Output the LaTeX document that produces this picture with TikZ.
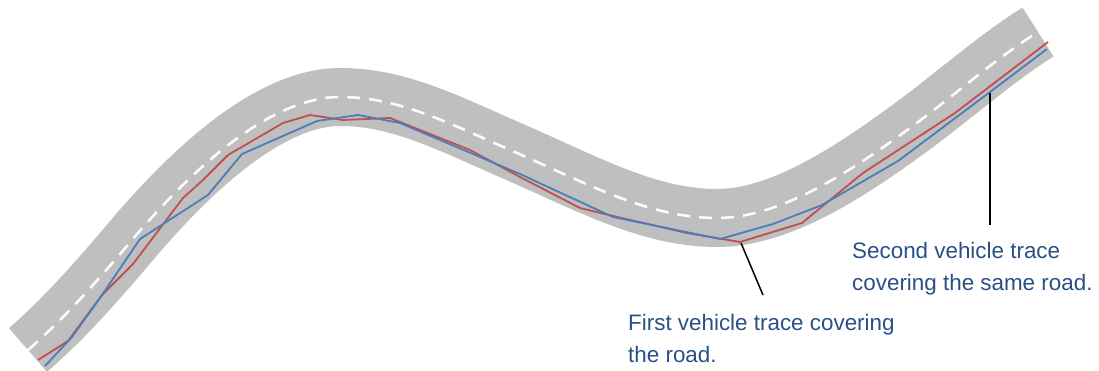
\documentclass[tikz,border=0pt]{standalone}
\usepackage{fontspec}
\setmainfont{Liberation Sans}
\definecolor{roadgray}{HTML}{BFBFBF}
\definecolor{tracered}{HTML}{C0504D}
\definecolor{traceblue}{HTML}{4A7EBB}
\definecolor{labelblue}{HTML}{2A5085}
\tikzset{
  road/.style={draw=roadgray,line width=58pt,line cap=butt},
  centerline/.style={draw=white!97!gray,line width=2.6pt,dash pattern=on 13pt off 9pt},
  redtrace/.style={draw=tracered,line width=1.8pt,line join=round},
  bluetrace/.style={draw=traceblue,line width=1.8pt,line join=round},
  leader/.style={draw=black},
  tracelabel/.style={text=labelblue,anchor=base west,align=left,inner sep=0pt,font=\fontsize{22.4}{32}\selectfont}
}
\begin{document}
\begin{tikzpicture}[x=1pt,y=-1pt]
\useasboundingbox (0,0) rectangle (1099,371);
\def\roadpath{(28,350) .. controls (65,318) and (100,278) .. (138,233) .. controls (178,187) and (262,97) .. (340,97) .. controls (400,97) and (450,124) .. (517,153) .. controls (590,185) and (650,218) .. (717,218) .. controls (780,218) and (850,172) .. (910,128) .. controls (955,95) and (995,59) .. (1038,32)}
\draw[road] \roadpath;
\draw[centerline] \roadpath;
\draw[redtrace] (38,360) -- (68,341) -- (102,295) -- (133,264) -- (183,198) -- (203,180) -- (228,155) -- (283,123) -- (310,115) -- (343,120) -- (390,118) -- (470,150) -- (520,177) -- (580,208) -- (613,216) -- (687,233) -- (740,242) -- (802,223) -- (863,173) -- (955,113) -- (1048,42);
\draw[bluetrace] (45,366) -- (72,337) -- (100,298) -- (140,239) -- (208,195) -- (242,154) -- (317,121) -- (358,115) -- (400,123) -- (520,174) -- (613,217) -- (720,239) -- (773,224) -- (822,205) -- (898,161) -- (990,92) -- (1047,49);
\coordinate (redpoint) at (741,243);
\coordinate (redend) at (763,295);
\coordinate (bluepoint) at (990,93);
\coordinate (blueend) at (990,225);
\draw[leader,line width=1.5pt] (redpoint) -- (redend);
\draw[leader,line width=2pt] (bluepoint) -- (blueend);
\node[tracelabel] (firstlabel) at (628,362) {First vehicle trace covering\\the road.};
\node[tracelabel] (secondlabel) at (852,290) {Second vehicle trace\\covering the same road.};
\end{tikzpicture}
\end{document}
